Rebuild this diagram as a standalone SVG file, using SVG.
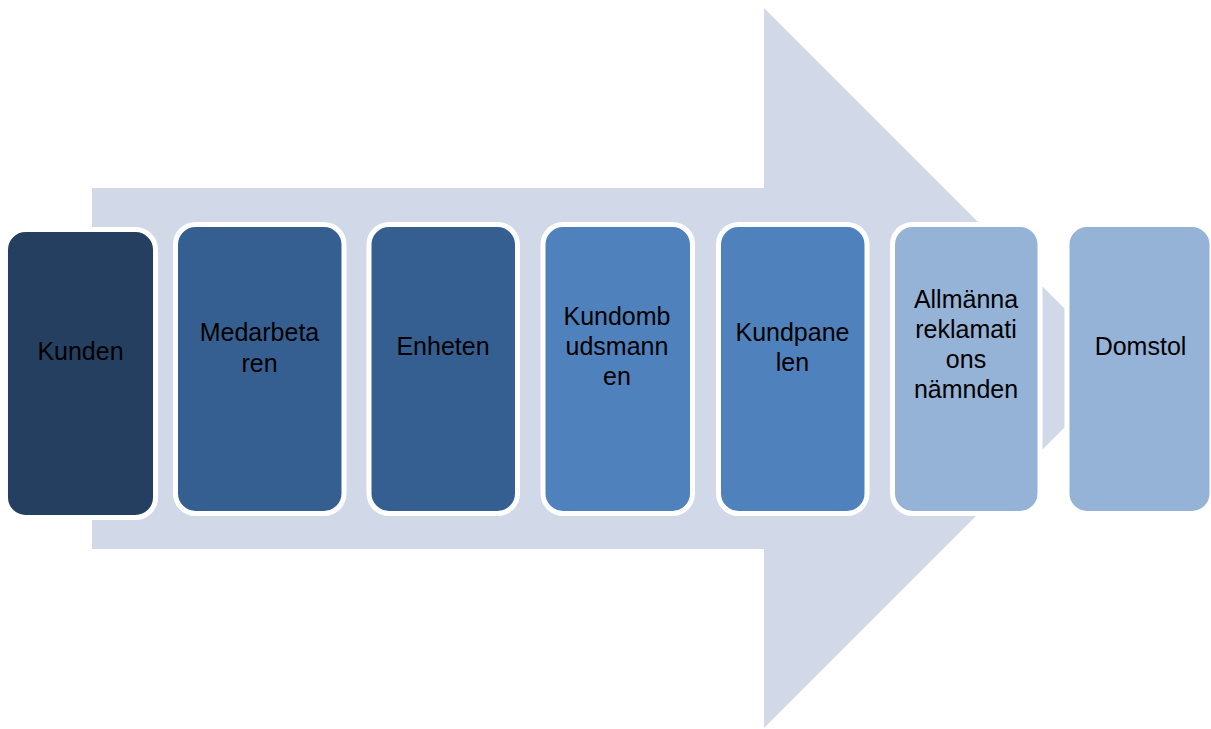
<svg xmlns="http://www.w3.org/2000/svg" width="1211" height="729" viewBox="0 0 1211 729">
<style>
.box{stroke:#ffffff;stroke-width:5}
.c1{fill:#243F60}
.c2{fill:#365F91}
.c3{fill:#4F81BD}
.c4{fill:#95B3D7}
text{font-family:"Liberation Sans",Arial,sans-serif;font-size:25px;fill:#000000;text-anchor:middle}
</style>
<rect width="1211" height="729" fill="#ffffff"/>
<g id="arrow">
<polygon points="92,188 764,188 764,8 1124,368 764,728 764,549 92,549" fill="#D1D8E7"/>
</g>
<g id="connectors"></g>
<g id="kunden">
<rect class="box c1" x="5.5" y="229.5" width="150" height="288" rx="20"/>
<text x="80.5" y="360">Kunden</text>
</g>
<g id="medarbetaren">
<rect class="box c2" x="175.5" y="224.5" width="168.5" height="289" rx="20"/>
<text x="259.5" y="341">Medarbeta</text>
<text x="259.5" y="372">ren</text>
</g>
<g id="enheten">
<rect class="box c2" x="369" y="224.5" width="148.5" height="289" rx="20"/>
<text x="443" y="355">Enheten</text>
</g>
<g id="kundombudsmannen">
<rect class="box c3" x="543" y="224.5" width="149.5" height="289" rx="20"/>
<text x="617" y="325">Kundomb</text>
<text x="617" y="355">udsmann</text>
<text x="617" y="385">en</text>
</g>
<g id="kundpanelen">
<rect class="box c3" x="718.5" y="224.5" width="148.5" height="289" rx="20"/>
<text x="792.5" y="341">Kundpane</text>
<text x="792.5" y="371">len</text>
</g>
<g id="allmanna">
<rect class="box c4" x="892.5" y="224.5" width="147.5" height="289" rx="20"/>
<text x="966" y="308">Allmänna</text>
<text x="966" y="338">reklamati</text>
<text x="966" y="368">ons</text>
<text x="966" y="398">nämnden</text>
</g>
<g id="domstol">
<rect class="box c4" x="1067" y="224.5" width="145" height="289" rx="20"/>
<text x="1140.5" y="355">Domstol</text>
</g>
</svg>
